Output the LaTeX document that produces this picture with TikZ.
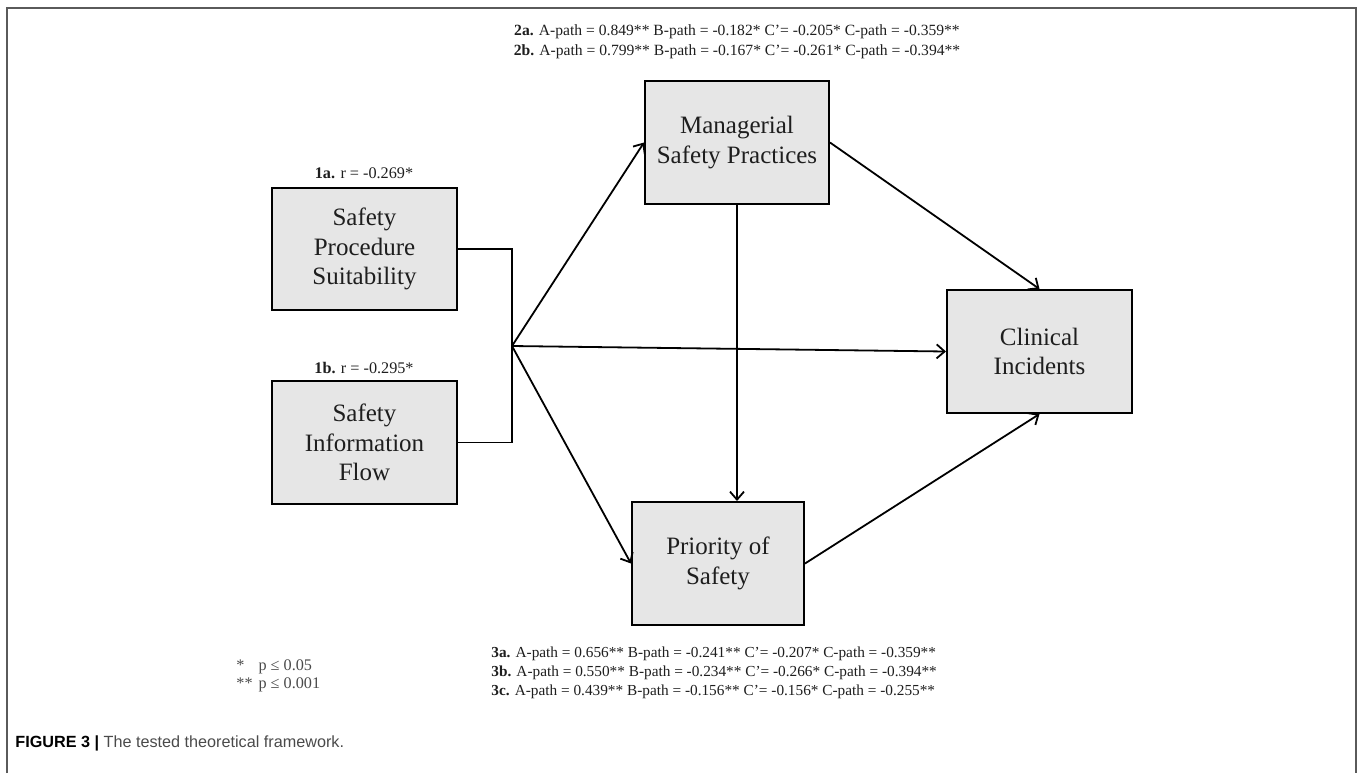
\documentclass[tikz,border=0pt]{standalone}
\usepackage{fontspec}
\setmainfont{Liberation Serif}
\newfontfamily\capfont{Liberation Sans}
\usetikzlibrary{arrows.meta}
\definecolor{boxfill}{HTML}{E6E6E6}
\definecolor{framecol}{HTML}{5A5A5A}
\definecolor{txt}{HTML}{1E1E1E}
\definecolor{legcol}{HTML}{4A4A4A}
\tikzset{
  var/.style={draw=black, line width=1pt, fill=boxfill, inner sep=0pt, align=center,
    font=\fontsize{12.5}{14.8}\selectfont, text=txt},
  conn/.style={line width=0.9pt, black},
  arr/.style={conn, -{Straight Barb[length=4pt,width=7pt,line width=0.9pt]}},
  lbl/.style={inner sep=0pt, font=\fontsize{8.1}{9.6}\selectfont, text=txt},
  botlbl/.style={inner sep=0pt, font=\fontsize{7.65}{9.2}\selectfont, text=txt},
  toplbl/.style={inner sep=0pt, font=\fontsize{7.8}{9.4}\selectfont, text=txt},
}
\begin{document}
\begin{tikzpicture}[x=0.5pt,y=-0.5pt]
\useasboundingbox (0,0) rectangle (1357,773);
% frame
\draw[framecol, line width=1pt] (7,773) -- (7,8) -- (1356,8) -- (1356,773);
% boxes
\node[var, minimum width=92.5pt, minimum height=61pt] (sps) at (364.5,249) {Safety\\Procedure\\Suitability};
\node[var, minimum width=92.5pt, minimum height=61.5pt] (sif) at (364.5,442.5) {Safety\\Information\\Flow};
\node[var, minimum width=92pt, minimum height=61.5pt] (msp) at (737,142.5) {Managerial\\Safety Practices};
\node[var, minimum width=86pt, minimum height=61.5pt] (pos) at (718,563.5) {Priority of\\Safety};
\node[var, minimum width=92.5pt, minimum height=61.5pt] (ci) at (1039.5,351.5) {Clinical\\Incidents};
% labels
\node[lbl] (l1a) at (364,173) {\textbf{1a.} r = -0.269*};
\node[lbl] (l1b) at (364,368) {\textbf{1b.} r = -0.295*};
\node[toplbl] (l2a) at (737,32) {\textbf{2a.} A-path = 0.849** B-path = -0.182* C'= -0.205* C-path = -0.359**};
\node[toplbl] (l2b) at (737,52) {\textbf{2b.} A-path = 0.799** B-path = -0.167* C'= -0.261* C-path = -0.394**};
\node[botlbl, anchor=west] (l3a) at (491,654) {\textbf{3a.} A-path = 0.656** B-path = -0.241** C'= -0.207* C-path = -0.359**};
\node[botlbl, anchor=west] (l3b) at (491,673) {\textbf{3b.} A-path = 0.550** B-path = -0.234** C'= -0.266* C-path = -0.394**};
\node[botlbl, anchor=west] (l3c) at (491,692) {\textbf{3c.} A-path = 0.439** B-path = -0.156** C'= -0.156* C-path = -0.255**};
\node[inner sep=0pt, anchor=north west, font=\fontsize{8.1}{10}\selectfont, text=legcol] (leg) at (236,656)
  {\begin{tabular}{@{}l@{\hspace{3pt}}l@{}}*&p ≤ 0.05\\[-1pt]**&p ≤ 0.001\end{tabular}};
\node[inner sep=0pt, anchor=west, font=\capfont\fontsize{8.1}{10}\selectfont] (cap) at (15,743)
  {\textbf{FIGURE 3 |} \textcolor{legcol}{The tested theoretical framework.}};
% connectors
\coordinate (j) at (512,346);
\draw[conn] (sps.east) -| (j);
\draw[conn] (sif.east) -| (j);
\draw[arr] (j) -- (msp.west);
\draw[arr] (j) -- (ci.west);
\draw[arr] (j) -- (pos.west);
\draw[arr] (msp.east) -- (ci.north);
\draw[arr] (pos.east) -- (ci.south);
\draw[arr] (msp.south) -- (msp.south |- pos.north);
\end{tikzpicture}
\end{document}
